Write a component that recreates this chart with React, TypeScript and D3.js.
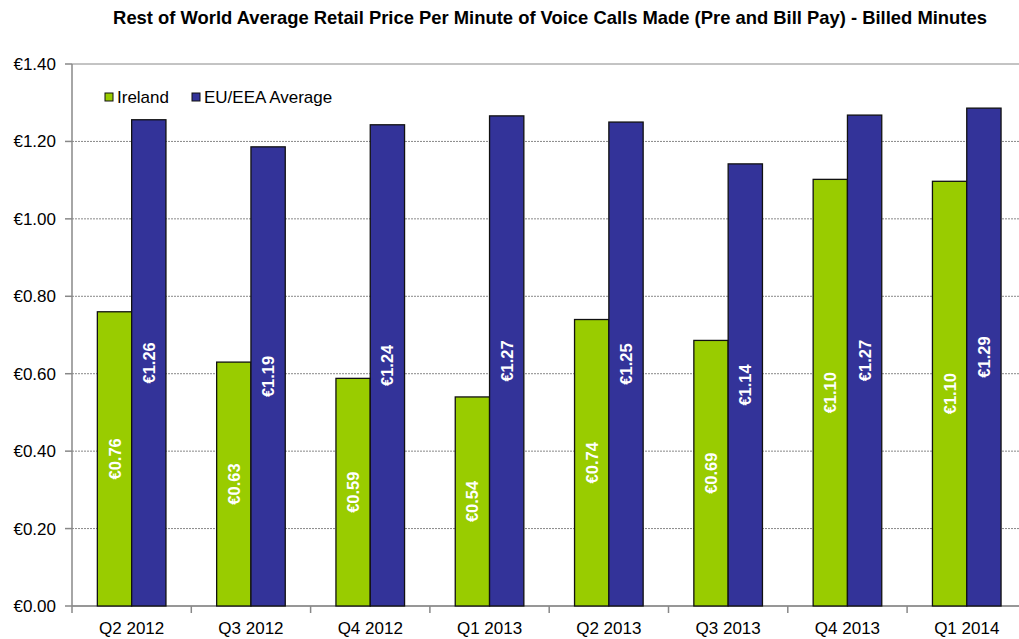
import React from "react";
import * as d3 from "d3";

const categories = ["Q2 2012", "Q3 2012", "Q4 2012", "Q1 2013", "Q2 2013", "Q3 2013", "Q4 2013", "Q1 2014"];
const ireland = [0.76, 0.63, 0.588, 0.54, 0.74, 0.686, 1.102, 1.097];
const euAverage = [1.256, 1.186, 1.243, 1.266, 1.25, 1.142, 1.268, 1.286];
const seriesNames = ["Ireland", "EU/EEA Average"];
const yTicks = [0, 0.2, 0.4, 0.6, 0.8, 1.0, 1.2, 1.4];
const title = "Rest of World Average Retail Price Per Minute of Voice Calls Made (Pre and Bill Pay) - Billed Minutes";

const W = 1019;
const H = 639;
const FONT = "'Liberation Sans', Arial, sans-serif";
const colors = ["#99CC00", "#333399"];

export default function App() {
  const left = 72;
  const top = 64;
  const bottom = 606;
  const step = 119.3;
  const x = d3.scaleBand<string>().domain(categories).range([left, left + step * categories.length]).paddingInner(0).paddingOuter(0);
  const y = d3.scaleLinear().domain([0, 1.4]).range([bottom, top]);
  const barW = 34.3;
  const groupOffset = (x.bandwidth() - 2 * barW) / 2;
  const series = [ireland, euAverage];
  const fmt = (v: number) => "€" + v.toFixed(2);

  return (
    <svg width={W} height={H} style={{ position: "absolute", left: 0, top: 0, background: "#fff" }} fontFamily={FONT}>
      <text x={550} y={24} textAnchor="middle" fontSize={18.4} fontWeight="bold" fill="#000">{title}</text>
      {/* gridlines */}
      {yTicks.map((t) => (
        <line key={"g" + t} x1={left} x2={W} y1={y(t)} y2={y(t)}
          stroke="#888" strokeWidth={1}
          strokeDasharray={t === 1.4 || t === 0 ? undefined : "2,1"} />
      ))}
      {/* y axis */}
      <line x1={left} x2={left} y1={top} y2={bottom} stroke="#888" strokeWidth={1.5} />
      {yTicks.map((t) => (
        <g key={"t" + t}>
          <line x1={left - 7} x2={left} y1={y(t)} y2={y(t)} stroke="#888" strokeWidth={1.5} />
          <text x={56} y={y(t) + 6} textAnchor="end" fontSize={17} fill="#000">{fmt(t)}</text>
        </g>
      ))}
      {/* x axis */}
      <line x1={left} x2={W} y1={bottom} y2={bottom} stroke="#888" strokeWidth={1.5} />
      {categories.map((c) => (
        <line key={"xt" + c} x1={(x(c) as number)} x2={(x(c) as number)} y1={bottom} y2={bottom + 7} stroke="#888" strokeWidth={1.5} />
      ))}
      {categories.map((c) => (
        <text key={"xl" + c} x={(x(c) as number) + x.bandwidth() / 2} y={634} textAnchor="middle" fontSize={17} fill="#000">{c}</text>
      ))}
      {/* bars */}
      {series.map((vals, s) =>
        vals.map((v, i) => {
          const bx = (x(categories[i]) as number) + groupOffset + s * barW;
          const by = y(v);
          return (
            <g key={"b" + s + "-" + i}>
              <rect x={bx} y={by} width={barW} height={bottom - by} fill={colors[s]} stroke="#111" strokeWidth={1.3} />
              <text
                transform={`translate(${bx + barW / 2 + 6},${(by + bottom) / 2}) rotate(-90)`}
                textAnchor="middle" fontSize={16.5} fontWeight="bold" fill="#fff">
                {fmt(v)}
              </text>
            </g>
          );
        })
      )}
      {/* legend */}
      {seriesNames.map((n, s) => {
        const lx = s === 0 ? 105 : 192;
        return (
          <g key={"l" + n}>
            <rect x={lx} y={93} width={8} height={8} fill={colors[s]} stroke="#111" strokeWidth={1} />
            <text x={lx + 12} y={103} fontSize={17} fill="#000">{n}</text>
          </g>
        );
      })}
    </svg>
  );
}
